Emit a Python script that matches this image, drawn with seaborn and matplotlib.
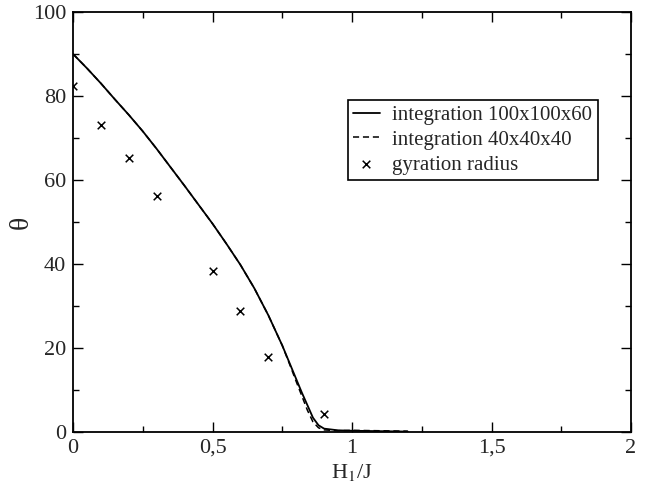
import numpy as np
import pandas as pd
import seaborn as sns
import matplotlib as mpl
import matplotlib.pyplot as plt
from matplotlib.ticker import MultipleLocator, FuncFormatter

# integration curves
h_line = [0, 0.05, 0.1, 0.15, 0.2, 0.25, 0.3, 0.35, 0.4, 0.45, 0.5, 0.55, 0.6, 0.65,
          0.7, 0.75, 0.78, 0.8, 0.82, 0.84, 0.86, 0.88, 0.9, 0.95, 1.0, 1.05, 1.1, 1.15, 1.2]
theta_100 = [90, 86.6, 83.0, 79.2, 75.5, 71.6, 67.4, 63.0, 58.6, 54.1, 49.6, 44.8, 39.8, 34.2,
             27.8, 20.6, 15.8, 12.6, 9.4, 6.4, 3.4, 1.6, 0.8, 0.4, 0.3, 0.25, 0.2, 0.15, 0.1]
theta_40 = [90, 86.6, 83.0, 79.2, 75.5, 71.6, 67.4, 63.0, 58.6, 54.1, 49.6, 44.8, 39.8, 34.2,
            27.8, 20.6, 15.5, 12.0, 8.6, 5.2, 2.4, 1.0, 0.5, 0.3, 0.4, 0.35, 0.3, 0.25, 0.2]

# gyration radius points
h_gyr = [0, 0.1, 0.2, 0.3, 0.5, 0.6, 0.7, 0.9]
theta_gyr = [82.3, 73.2, 65.3, 56.3, 38.3, 28.9, 17.8, 4.3]

sns.set_style("ticks")
plt.rcParams["font.family"] = ["Liberation Serif", "DejaVu Serif"]
plt.rcParams["mathtext.fontset"] = "stix"

fig = plt.figure(figsize=(6.48, 4.86), dpi=100)
ax = fig.add_axes([0.1127, 0.1111, 0.8611, 0.8642])

df = pd.DataFrame({"h": h_line, "a": theta_100, "b": theta_40})
sns.lineplot(data=df, x="h", y="a", ax=ax, color="black", lw=1.3,
             label="integration 100x100x60")
sns.lineplot(data=df, x="h", y="b", ax=ax, color="black", lw=1.1,
             linestyle=(0, (4, 2.5)), label="integration 40x40x40")
sns.scatterplot(x=h_gyr, y=theta_gyr, ax=ax, marker="x", color="black", s=30,
                linewidth=1.1, label="gyration radius")

ax.set_xlim(0, 2)
ax.set_ylim(0, 100)
ax.xaxis.set_major_locator(MultipleLocator(0.5))
ax.xaxis.set_minor_locator(MultipleLocator(0.25))
ax.yaxis.set_major_locator(MultipleLocator(20))
ax.yaxis.set_minor_locator(MultipleLocator(10))
ax.xaxis.set_major_formatter(FuncFormatter(lambda v, p: ("%g" % v).replace(".", ",")))
ax.tick_params(which="both", direction="in", top=True, right=True, labelsize=16, width=1, color="black")
ax.tick_params(which="major", length=7.5, pad=5)
ax.tick_params(which="minor", length=4)
for s in ax.spines.values():
    s.set_linewidth(1.3)
    s.set_color("black")

ax.set_xlabel("H$_1$/J", fontsize=16, labelpad=3)
ax.set_ylabel("θ", fontsize=20, labelpad=-1)

leg = ax.legend(loc="upper right", bbox_to_anchor=(0.94, 0.79), fontsize=15,
                frameon=True, fancybox=False, edgecolor="black", framealpha=1,
                handlelength=1.3, handletextpad=0.6, borderpad=0.25, labelspacing=0.25,
                borderaxespad=0)
leg.get_frame().set_linewidth(1.2)

fig.savefig("out.png", dpi=100)
